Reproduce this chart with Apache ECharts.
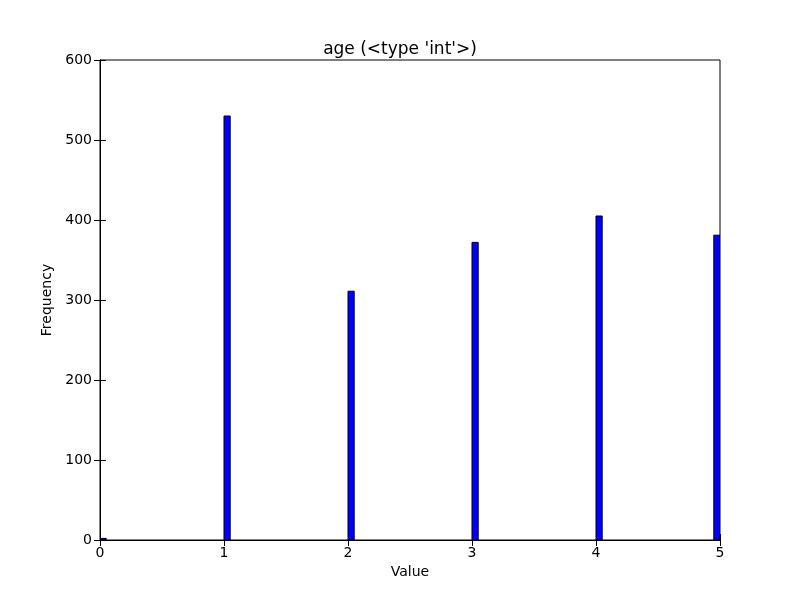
<!DOCTYPE html>
<html><head><meta charset="utf-8">
<script src="https://cdn.jsdelivr.net/npm/echarts@6/dist/echarts.min.js"></script>
<style>html,body{margin:0;background:#fff}#c{width:800px;height:600px}</style>
</head><body><div id="c"></div>
<script>
const binStarts = [0, 1, 2, 3, 4, 4.95];
const binWidth = 0.05;
const counts = [2, 530, 311, 372, 405, 381];
const xTicks = [0, 1, 2, 3, 4, 5];
const yTicks = [0, 100, 200, 300, 400, 500, 600];

const data = binStarts.map((s, i) => [s, s + binWidth, counts[i]]);
const chart = echarts.init(document.getElementById('c'));
const font = 'DejaVu Sans';
const axisCommon = {
  axisLine: {show: true, lineStyle: {color: '#000', width: 1}},
  axisTick: {show: true, inside: true, length: 6, lineStyle: {color: '#000'}},
  splitLine: {show: false},
  axisLabel: {color: '#000', fontFamily: font, fontSize: 14}
};
chart.setOption({
  animation: false,
  title: {text: "age (<type 'int'>)", left: 'center', top: 36, textStyle: {fontFamily: font, fontSize: 17, fontWeight: 'normal', color: '#000'}},
  grid: {left: 100, right: 80, top: 60, bottom: 60, show: true, borderColor: '#000', borderWidth: 1},
  xAxis: [
    Object.assign({type: 'value', min: 0, max: 5, interval: 1, name: 'Value', nameLocation: 'middle', nameGap: 24,
      nameTextStyle: {fontFamily: font, fontSize: 14, color: '#000'}}, axisCommon,
      {axisLabel: Object.assign({}, axisCommon.axisLabel, {margin: 6})}),
    Object.assign({type: 'value', min: 0, max: 5, interval: 1, position: 'top'}, axisCommon, {axisLabel: {show: false}})
  ],
  yAxis: [
    Object.assign({type: 'value', min: 0, max: 600, interval: 100, name: 'Frequency', nameLocation: 'middle', nameGap: 45,
      nameTextStyle: {fontFamily: font, fontSize: 14, color: '#000'}}, axisCommon),
    Object.assign({type: 'value', min: 0, max: 600, interval: 100, position: 'right'}, axisCommon, {axisLabel: {show: false}})
  ],
  series: [{
    type: 'custom',
    data: data,
    clip: true,
    encode: {x: [0, 1], y: 2},
    renderItem: function (params, api) {
      const p0 = api.coord([api.value(0), 0]);
      const p1 = api.coord([api.value(1), api.value(2)]);
      return {type: 'rect', shape: {x: p0[0], y: p1[1], width: p1[0] - p0[0], height: p0[1] - p1[1]},
        style: {fill: '#0000ff', stroke: '#000', lineWidth: 1}};
    }
  }]
});
</script></body></html>
